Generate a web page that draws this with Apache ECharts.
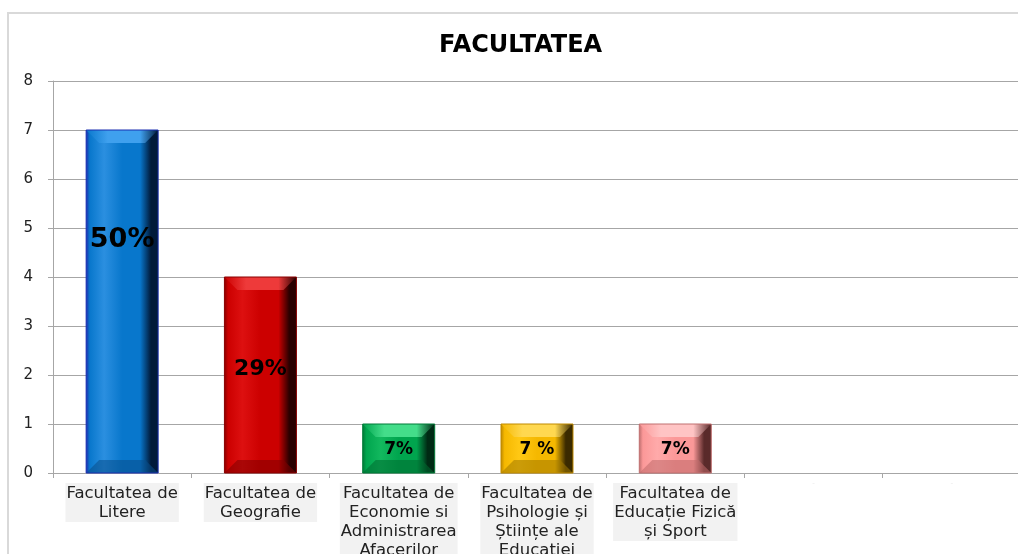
<!DOCTYPE html>
<html lang="ro">
<head>
    <meta charset="UTF-8">
    <title>FACULTATEA</title>
    <script src="https://cdn.jsdelivr.net/npm/echarts@6/dist/echarts.min.js"></script>
    <style>
        html, body { margin: 0; padding: 0; background: #fff; }
    </style>
</head>
<body>

<div id="wrap" style="width: 1018px; height: 554px;"></div>

<script>
    var categories = [
        'Facultatea de\nLitere',
        'Facultatea de\nGeografie',
        'Facultatea de\nEconomie si\nAdministrarea\nAfacerilor',
        'Facultatea de\nPsihologie și\nȘtiințe ale\nEducației',
        'Facultatea de\nEducație Fizică\nși Sport',
        '',
        ''
    ];
    var counts = [7, 4, 1, 1, 1];
    var pctLabels = ['50%', '29%', '7%', '7 %', '7%'];
    var yTicks = [0, 1, 2, 3, 4, 5, 6, 7, 8];

    // culori: fata, margine dreapta (umbra), tesitura sus
    var palette = [
        { main: '#0877cc', light: '#2b8fe0', dark: '#011a3a', edge: '#1a2fb0', top: '#3fa0ee', bottom: '#0a4f8a' },
        { main: '#cc0000', light: '#dd1010', dark: '#2a0000', edge: '#8a0000', top: '#ee3a3a', bottom: '#800000' },
        { main: '#00a54e', light: '#12b85e', dark: '#002a14', edge: '#007a38', top: '#44dd8a', bottom: '#006a30' },
        { main: '#f5b800', light: '#ffc814', dark: '#3a2a00', edge: '#c08a00', top: '#ffd850', bottom: '#a07800' },
        { main: '#fb9898', light: '#ffaaaa', dark: '#5a2a2a', edge: '#c07070', top: '#ffc4c4', bottom: '#c06a6a' }
    ];
    var labelY = ['32%', '47%', '53%', '53%', '53%'];
    var labelSize = [27, 22, 17, 17, 17];

    var myChart = echarts.init(document.getElementById('wrap'));

    function faceGradient(c) {
        return new echarts.graphic.LinearGradient(0, 0, 1, 0, [
            { offset: 0, color: c.edge },
            { offset: 0.05, color: c.main },
            { offset: 0.25, color: c.light },
            { offset: 0.5, color: c.main },
            { offset: 0.75, color: c.main },
            { offset: 0.9, color: c.dark },
            { offset: 1, color: c.dark }
        ]);
    }

    var barData = counts.map(function (v, i) {
        return {
            value: v,
            itemStyle: { color: faceGradient(palette[i]) },
            label: {
                show: true,
                formatter: pctLabels[i],
                position: ['50%', labelY[i]],
                align: 'center',
                verticalAlign: 'middle',
                fontFamily: 'DejaVu Sans',
                fontWeight: 'bold',
                fontSize: labelSize[i],
                color: '#000'
            }
        };
    });

    var bevelData = counts.map(function (v, i) { return [i, v]; });

    var option = {
        animation: false,
        title: {
            text: 'FACULTATEA',
            left: 434,
            top: 29,
            textStyle: {
                fontFamily: 'DejaVu Sans',
                fontWeight: 'bold',
                fontSize: 24,
                color: '#000'
            }
        },
        graphic: [{
            type: 'rect',
            shape: { x: 8, y: 13, width: 1030, height: 560 },
            style: { fill: 'none', stroke: '#d9d9d9', lineWidth: 2 },
            silent: true
        }],
        grid: {
            left: 53,
            right: -3,
            top: 81,
            bottom: 81,
            outerBoundsMode: 'none',
            containLabel: false
        },
        xAxis: {
            type: 'category',
            data: categories,
            axisLine: { lineStyle: { color: '#a6a6a6', width: 1 } },
            axisTick: { show: true, length: 5, lineStyle: { color: '#a6a6a6' } },
            axisLabel: {
                interval: 0,
                margin: 10,
                fontFamily: 'DejaVu Sans',
                fontSize: 16.5,
                lineHeight: 19,
                color: '#222',
                backgroundColor: '#f2f2f2',
                padding: [1, 1, 0, 1]
            }
        },
        yAxis: {
            type: 'value',
            min: 0,
            max: 8,
            interval: 1,
            axisLine: { show: true, lineStyle: { color: '#a6a6a6', width: 1 } },
            axisTick: { show: true, length: 5, lineStyle: { color: '#a6a6a6' } },
            splitLine: { lineStyle: { color: '#a6a6a6', width: 1 } },
            axisLabel: {
                margin: 20,
                fontFamily: 'DejaVu Sans',
                fontSize: 15,
                color: '#222',
                formatter: function (v) { return yTicks.indexOf(v) >= 0 ? String(v) : ''; }
            }
        },
        series: [{
            name: 'FACULTATEA',
            type: 'bar',
            barWidth: 72,
            data: barData,
            z: 2
        }, {
            name: 'bevel',
            type: 'custom',
            silent: true,
            z: 3,
            data: bevelData,
            renderItem: function (params, api) {
                var i = api.value(0);
                var top = api.coord([i, api.value(1)]);
                var base = api.coord([i, 0]);
                var w = 72, b = 13;
                var x0 = top[0] - w / 2, x1 = top[0] + w / 2;
                var y0 = top[1], y1 = base[1];
                var c = palette[i];
                return {
                    type: 'group',
                    children: [{
                        type: 'polygon',
                        shape: { points: [[x0, y0], [x1, y0], [x1 - b, y0 + b], [x0 + b, y0 + b]] },
                        style: {
                            fill: new echarts.graphic.LinearGradient(0, 0, 1, 0, [
                                { offset: 0, color: c.main },
                                { offset: 0.3, color: c.top },
                                { offset: 0.75, color: c.top },
                                { offset: 1, color: c.dark }
                            ])
                        }
                    }, {
                        type: 'polygon',
                        shape: { points: [[x0, y1], [x1, y1], [x1 - b, y1 - b], [x0 + b, y1 - b]] },
                        style: { fill: c.bottom, opacity: 0.55 }
                    }, {
                        type: 'rect',
                        shape: { x: x0, y: y0, width: w, height: y1 - y0 },
                        style: { fill: 'none', stroke: c.edge, lineWidth: 1 }
                    }]
                };
            }
        }]
    };

    myChart.setOption(option);
</script>
</body>
</html>
